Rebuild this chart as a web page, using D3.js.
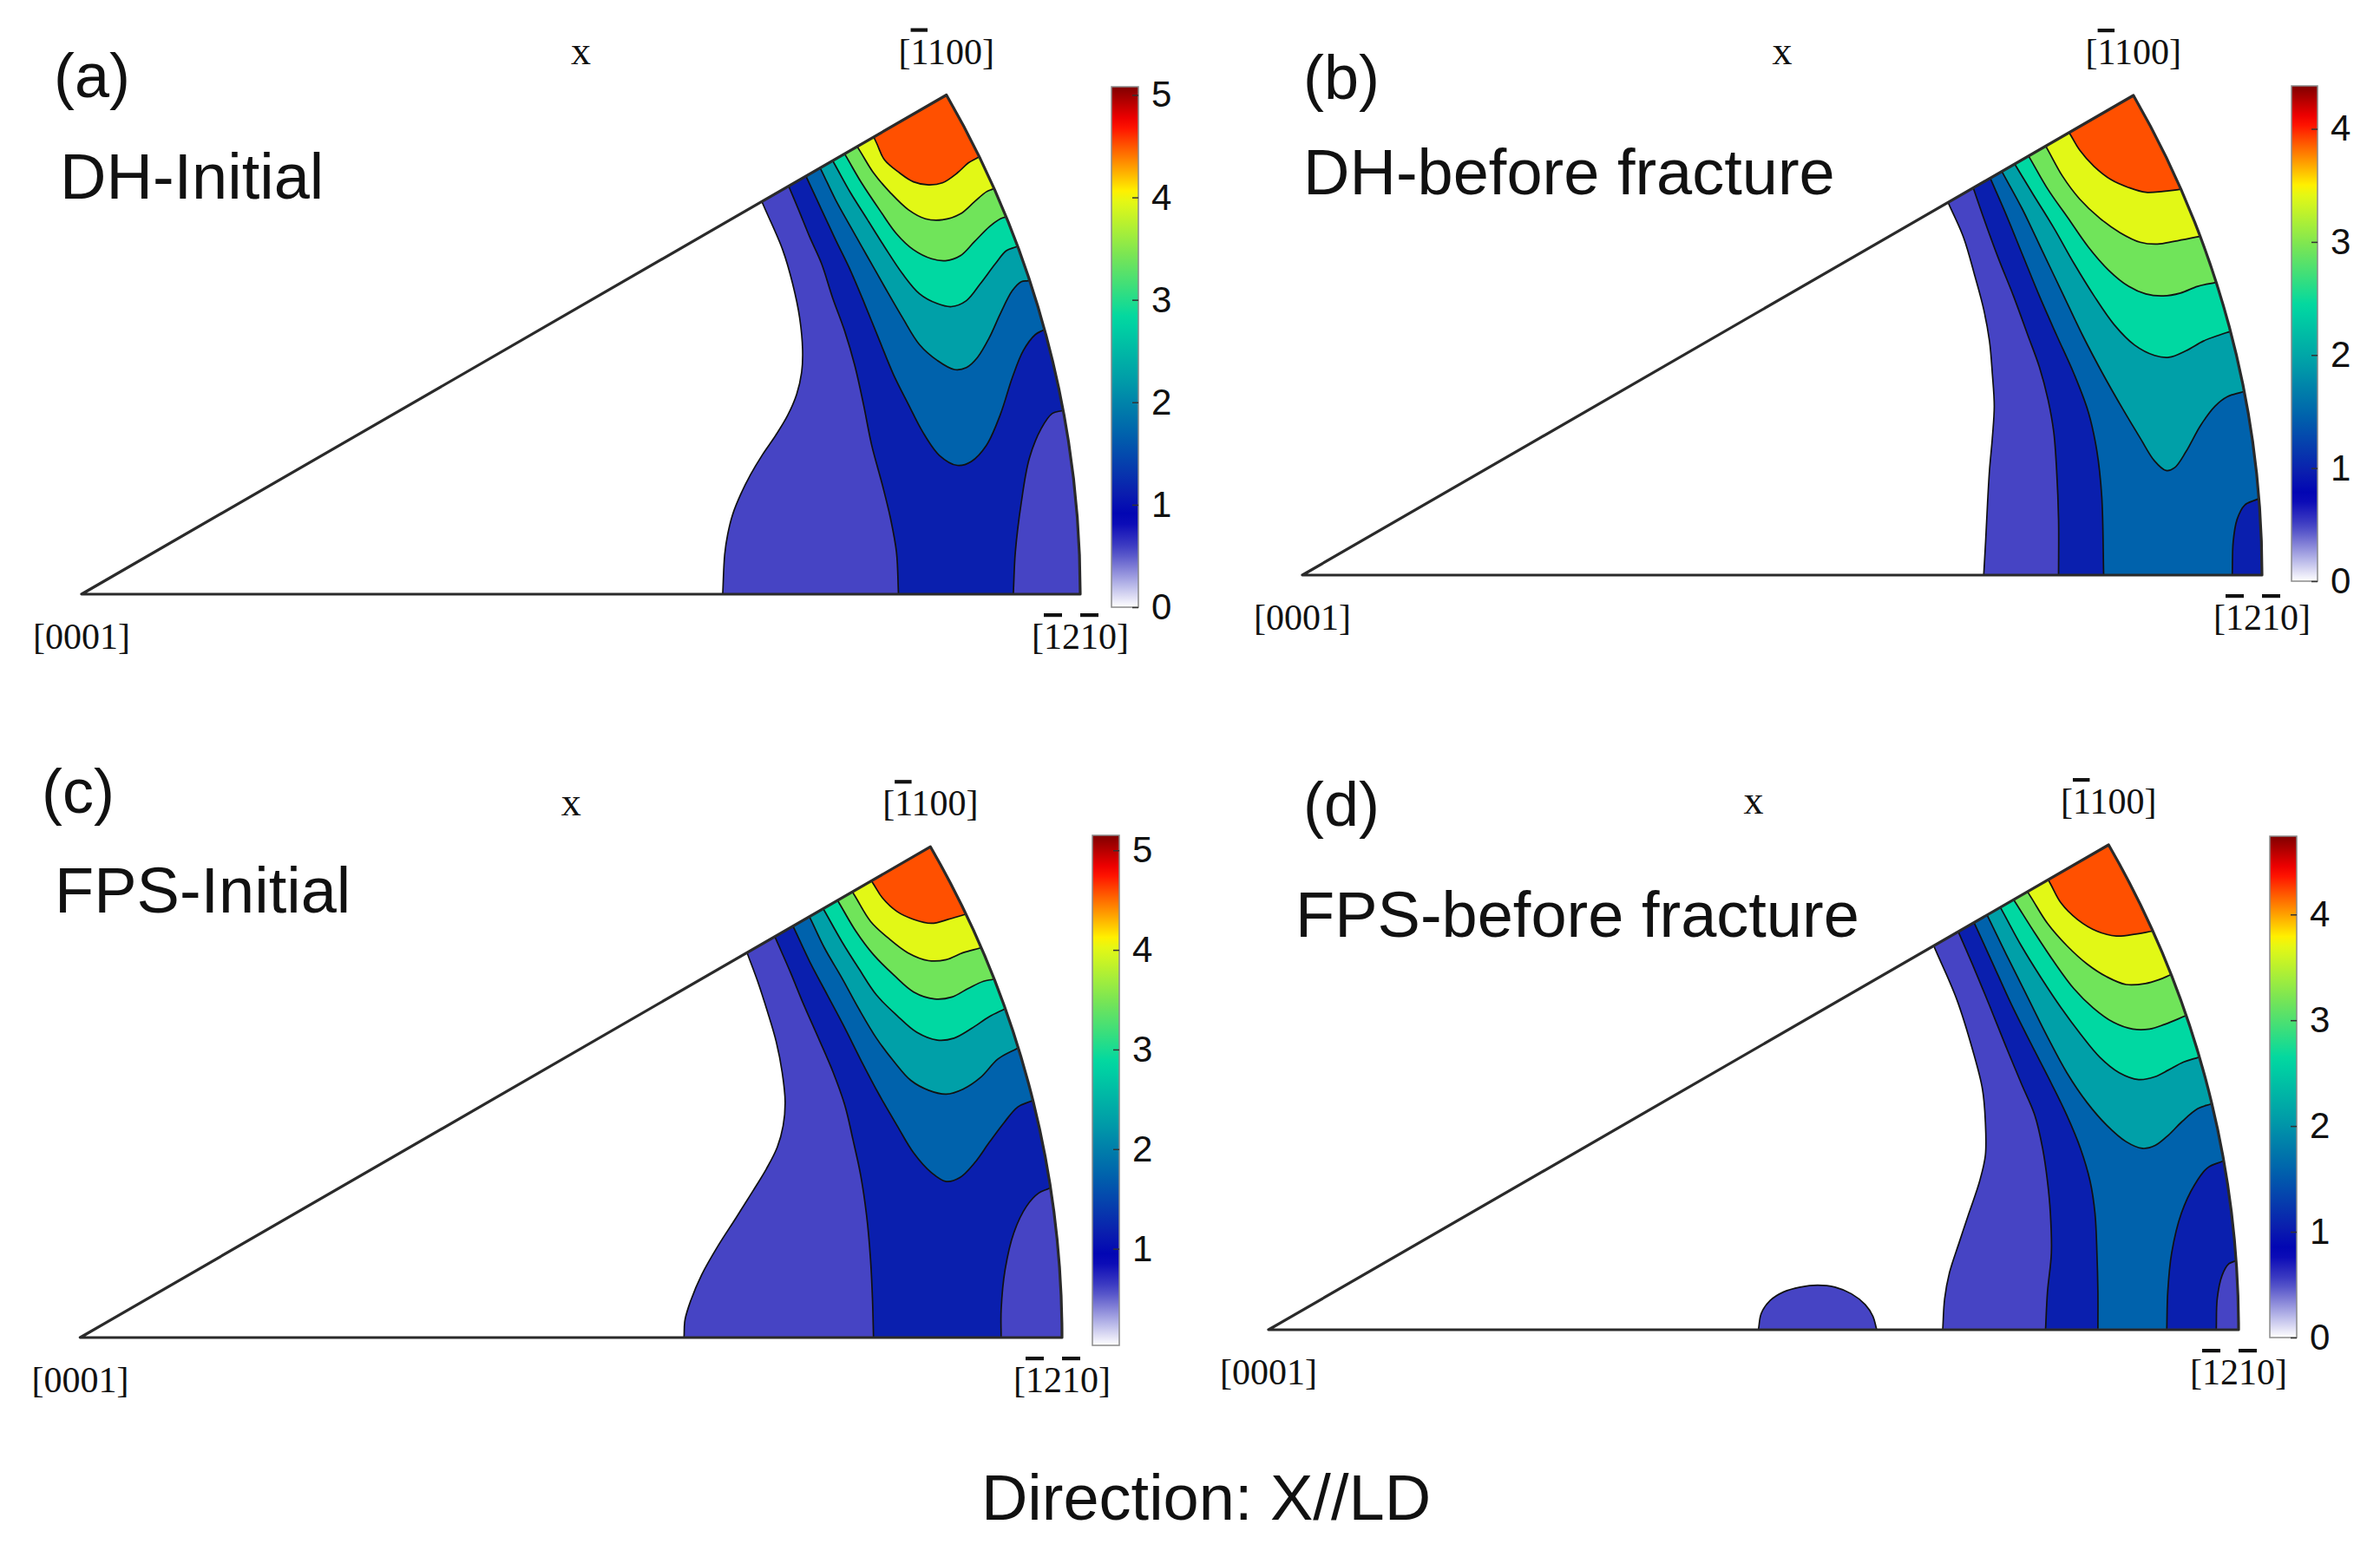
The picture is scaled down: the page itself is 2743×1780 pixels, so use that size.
<!DOCTYPE html>
<html>
<head>
<meta charset="utf-8">
<title>IPF X//LD</title>
<script src="https://cdnjs.cloudflare.com/ajax/libs/d3/7.8.5/d3.min.js"></script>
<style>
  body { margin: 0; background: #fff; }
  text { font-family: "Liberation Sans", Arial, sans-serif; fill: #111; }
  text.serif { font-family: "Liberation Serif", "DejaVu Serif", serif; }
</style>
</head>
<body>
<svg id="chart" width="2743" height="1780"></svg>
<script>

// panel texts
var panelIds = ["(a)", "(b)", "(c)", "(d)"];
var panelTitles = ["DH-Initial", "DH-before fracture", "FPS-Initial", "FPS-before fracture"];

// colour bar range of each panel (mrd) and its tick labels
var cbarMin = [0, 0, 0.03, 0];
var cbarMax = [5.08, 4.38, 5.15, 4.74];
var cbarTicks = [[0, 1, 2, 3, 4, 5], [0, 1, 2, 3, 4], [1, 2, 3, 4, 5], [0, 1, 2, 3, 4]];
var nLevels = 9;

// white-jet colour map, position 0..1 of the bar
var cmapPos = [0, 0.111, 0.17, 0.222, 0.333, 0.444, 0.556, 0.667, 0.778, 0.80, 0.889, 0.93, 1];
var cmapCol = ["#ffffff", "#4644c4", "#0000b4", "#0a1fae", "#0062ac", "#00a0a8", "#00d8a2",
               "#70e45a", "#e2f816", "#fff000", "#ff5000", "#ff0000", "#800000"];

// contour lines of each panel, points [u, v] in the unit sector
// (u along [0001]->[-12-10], v upward), k = contour level index
// hole: area on the corner side is below the level
var contoursA = [
  {k: 1, pts: [[0.683,0.389],[0.702,0.345],[0.712,0.311],[0.719,0.277],[0.722,0.244],[0.721,0.222],[0.716,0.200],[0.707,0.179],[0.695,0.159],[0.682,0.140],[0.670,0.120],[0.660,0.100],[0.652,0.080],[0.647,0.060],[0.644,0.040],[0.642,0.000]]},
  {k: 2, pts: [[0.710,0.404],[0.718,0.385],[0.729,0.358],[0.741,0.331],[0.752,0.297],[0.764,0.264],[0.774,0.230],[0.783,0.190],[0.791,0.150],[0.802,0.109],[0.810,0.076],[0.816,0.042],[0.818,0.000]]},
  {k: 3, pts: [[0.728,0.413],[0.741,0.385],[0.755,0.355],[0.770,0.324],[0.784,0.291],[0.799,0.254],[0.813,0.220],[0.828,0.190],[0.842,0.163],[0.859,0.139],[0.877,0.129],[0.891,0.133],[0.906,0.149],[0.920,0.180],[0.932,0.217],[0.943,0.244],[0.955,0.260],[0.964,0.265]]},
  {k: 4, pts: [[0.742,0.422],[0.755,0.395],[0.770,0.368],[0.787,0.338],[0.804,0.308],[0.822,0.277],[0.839,0.250],[0.857,0.234],[0.874,0.225],[0.886,0.227],[0.897,0.237],[0.909,0.257],[0.920,0.281],[0.932,0.304],[0.941,0.313],[0.948,0.314]]},
  {k: 5, pts: [[0.755,0.429],[0.770,0.402],[0.787,0.375],[0.804,0.348],[0.822,0.321],[0.839,0.301],[0.857,0.291],[0.871,0.288],[0.886,0.294],[0.900,0.311],[0.915,0.331],[0.926,0.344],[0.936,0.348]]},
  {k: 6, pts: [[0.767,0.436],[0.781,0.412],[0.799,0.385],[0.816,0.361],[0.833,0.345],[0.851,0.336],[0.865,0.334],[0.880,0.339],[0.894,0.353],[0.909,0.368],[0.920,0.376],[0.926,0.378]]},
  {k: 7, pts: [[0.780,0.443],[0.793,0.422],[0.810,0.402],[0.828,0.385],[0.845,0.376],[0.862,0.375],[0.880,0.381],[0.894,0.393],[0.906,0.403],[0.913,0.406]]},
  {k: 8, pts: [[0.796,0.452],[0.804,0.435],[0.819,0.422],[0.833,0.413],[0.848,0.410],[0.862,0.412],[0.877,0.422],[0.888,0.432],[0.897,0.437]]},
  {k: 2, hole: true, pts: [[0.933,0.000],[0.935,0.042],[0.941,0.092],[0.949,0.136],[0.961,0.166],[0.972,0.181],[0.983,0.184]]}
];

var contoursB = [
  {k: 1, pts: [[0.674,0.386],[0.689,0.352],[0.701,0.311],[0.710,0.277],[0.716,0.244],[0.719,0.210],[0.721,0.176],[0.719,0.143],[0.716,0.109],[0.714,0.075],[0.712,0.035],[0.710,0.000]]},
  {k: 2, pts: [[0.700,0.401],[0.710,0.372],[0.725,0.331],[0.741,0.291],[0.756,0.250],[0.768,0.217],[0.777,0.183],[0.783,0.149],[0.786,0.109],[0.788,0.058],[0.788,0.000]]},
  {k: 3, pts: [[0.718,0.411],[0.732,0.379],[0.750,0.335],[0.768,0.291],[0.786,0.250],[0.804,0.210],[0.819,0.170],[0.828,0.129],[0.833,0.082],[0.835,0.000]]},
  {k: 4, pts: [[0.731,0.417],[0.750,0.382],[0.771,0.338],[0.792,0.294],[0.813,0.250],[0.834,0.210],[0.855,0.173],[0.873,0.143],[0.888,0.119],[0.900,0.109],[0.909,0.112],[0.921,0.129],[0.936,0.156],[0.951,0.176],[0.964,0.186],[0.980,0.191]]},
  {k: 5, pts: [[0.745,0.424],[0.762,0.396],[0.783,0.362],[0.804,0.325],[0.825,0.291],[0.846,0.261],[0.867,0.240],[0.888,0.229],[0.903,0.227],[0.921,0.234],[0.939,0.244],[0.955,0.250],[0.967,0.254]]},
  {k: 6, pts: [[0.759,0.433],[0.777,0.402],[0.798,0.372],[0.819,0.342],[0.840,0.318],[0.861,0.301],[0.879,0.293],[0.897,0.291],[0.915,0.294],[0.933,0.301],[0.952,0.305]]},
  {k: 7, pts: [[0.777,0.443],[0.792,0.416],[0.810,0.392],[0.831,0.372],[0.852,0.357],[0.873,0.347],[0.891,0.345],[0.909,0.348],[0.935,0.353]]},
  {k: 8, pts: [[0.801,0.458],[0.810,0.443],[0.825,0.426],[0.843,0.412],[0.861,0.404],[0.879,0.399],[0.897,0.400],[0.914,0.402]]},
  {k: 3, hole: true, pts: [[0.969,0.000],[0.970,0.035],[0.974,0.058],[0.982,0.073],[0.995,0.079]]}
];

var contoursC = [
  {k: 1, pts: [[0.680,0.390],[0.690,0.363],[0.700,0.332],[0.709,0.301],[0.715,0.270],[0.718,0.240],[0.716,0.216],[0.710,0.194],[0.699,0.172],[0.685,0.149],[0.668,0.122],[0.650,0.094],[0.633,0.064],[0.622,0.038],[0.616,0.018],[0.615,0.000]]},
  {k: 2, pts: [[0.709,0.405],[0.723,0.373],[0.737,0.339],[0.752,0.305],[0.767,0.270],[0.779,0.236],[0.787,0.202],[0.795,0.165],[0.801,0.124],[0.805,0.079],[0.807,0.038],[0.808,0.000]]},
  {k: 3, pts: [[0.728,0.415],[0.743,0.383],[0.761,0.349],[0.779,0.315],[0.796,0.281],[0.814,0.247],[0.832,0.216],[0.849,0.188],[0.867,0.168],[0.882,0.159],[0.896,0.163],[0.911,0.178],[0.926,0.199],[0.941,0.219],[0.955,0.235],[0.969,0.241]]},
  {k: 4, pts: [[0.745,0.424],[0.758,0.397],[0.776,0.366],[0.793,0.335],[0.811,0.305],[0.829,0.281],[0.846,0.262],[0.864,0.252],[0.882,0.248],[0.899,0.253],[0.917,0.265],[0.935,0.284],[0.955,0.295]]},
  {k: 5, pts: [[0.759,0.433],[0.776,0.403],[0.793,0.376],[0.811,0.349],[0.832,0.328],[0.852,0.311],[0.873,0.303],[0.890,0.305],[0.908,0.315],[0.926,0.327],[0.942,0.335]]},
  {k: 6, pts: [[0.774,0.441],[0.790,0.414],[0.808,0.390],[0.829,0.369],[0.849,0.352],[0.870,0.345],[0.888,0.347],[0.905,0.356],[0.920,0.363],[0.930,0.365]]},
  {k: 7, pts: [[0.789,0.450],[0.805,0.424],[0.823,0.407],[0.843,0.392],[0.864,0.384],[0.882,0.385],[0.899,0.392],[0.917,0.397]]},
  {k: 8, pts: [[0.808,0.462],[0.817,0.448],[0.832,0.434],[0.849,0.426],[0.867,0.422],[0.884,0.426],[0.901,0.431]]},
  {k: 2, hole: true, pts: [[0.938,0.000],[0.938,0.028],[0.942,0.069],[0.951,0.107],[0.964,0.134],[0.976,0.147],[0.987,0.152]]}
];

var contoursD = [
  {k: 1, pts: [[0.687,0.393],[0.709,0.342],[0.726,0.288],[0.736,0.248],[0.739,0.214],[0.739,0.180],[0.733,0.153],[0.722,0.120],[0.712,0.090],[0.702,0.059],[0.697,0.032],[0.695,0.000]]},
  {k: 1, pts: [[0.505,0.000],[0.508,0.017],[0.517,0.030],[0.531,0.039],[0.548,0.044],[0.566,0.046],[0.584,0.044],[0.601,0.037],[0.615,0.026],[0.623,0.014],[0.627,0.000]]},
  {k: 2, pts: [[0.713,0.406],[0.726,0.376],[0.743,0.335],[0.759,0.295],[0.776,0.254],[0.790,0.221],[0.798,0.187],[0.803,0.153],[0.806,0.120],[0.807,0.079],[0.803,0.039],[0.801,0.000]]},
  {k: 3, pts: [[0.730,0.414],[0.746,0.379],[0.766,0.335],[0.786,0.295],[0.807,0.254],[0.823,0.221],[0.837,0.187],[0.847,0.153],[0.852,0.120],[0.854,0.079],[0.855,0.039],[0.855,0.000]]},
  {k: 4, pts: [[0.744,0.421],[0.763,0.382],[0.783,0.342],[0.803,0.302],[0.823,0.265],[0.844,0.234],[0.864,0.211],[0.884,0.194],[0.901,0.187],[0.914,0.190],[0.928,0.201],[0.941,0.214],[0.958,0.228],[0.972,0.233]]},
  {k: 5, pts: [[0.758,0.429],[0.776,0.396],[0.797,0.362],[0.817,0.332],[0.837,0.305],[0.857,0.281],[0.877,0.265],[0.897,0.258],[0.914,0.261],[0.928,0.268],[0.943,0.276],[0.959,0.281]]},
  {k: 6, pts: [[0.771,0.439],[0.790,0.409],[0.810,0.379],[0.830,0.352],[0.850,0.332],[0.871,0.317],[0.891,0.310],[0.908,0.310],[0.924,0.315],[0.946,0.324]]},
  {k: 7, pts: [[0.786,0.446],[0.803,0.419],[0.823,0.396],[0.844,0.377],[0.864,0.364],[0.884,0.356],[0.904,0.357],[0.918,0.361],[0.930,0.366]]},
  {k: 8, pts: [[0.806,0.460],[0.817,0.440],[0.834,0.423],[0.854,0.411],[0.874,0.406],[0.894,0.408],[0.911,0.411]]},
  {k: 3, hole: true, pts: [[0.926,0.000],[0.927,0.039],[0.931,0.079],[0.941,0.120],[0.955,0.150],[0.968,0.167],[0.984,0.174]]},
  {k: 2, hole: true, pts: [[0.977,0.000],[0.978,0.032],[0.983,0.056],[0.990,0.068],[0.997,0.071]]}
];

var panelContours = [contoursA, contoursB, contoursC, contoursD];

// layout of the four panels (pixels)
var layout = [
  {cx: 94,   cy: 685,  R: 1151,   bar: [1281, 100, 31, 600], id: [62, 112],   title: [69, 229]},
  {cx: 1501, cy: 663,  R: 1106,   bar: [2641, 99, 30, 571],  id: [1502, 114], title: [1502, 224]},
  {cx: 92.4, cy: 1542, R: 1131.6, bar: [1259, 963, 31, 588], id: [48, 937],   title: [63, 1052]},
  {cx: 1462, cy: 1533, R: 1118,   bar: [2616, 964, 31, 578], id: [1502, 952], title: [1493, 1080]}
];

var svg = d3.select("#chart");
var defs = svg.append("defs");

var cmap = d3.scaleLinear().domain(cmapPos).range(cmapCol).interpolate(d3.interpolateRgb);

// gradient for the colour bars
var grad = defs.append("linearGradient").attr("id", "wjet")
  .attr("x1", 0).attr("y1", 1).attr("x2", 0).attr("y2", 0);
d3.range(0, 1.0001, 0.02).forEach(function(t) {
  grad.append("stop").attr("offset", t).attr("stop-color", cmap(t));
});

var cos30 = Math.cos(Math.PI / 6), sin30 = 0.5;

// labels with overbars, written as [text, overbar] parts
function millerLabel(g, x, y, parts) {
  var t = g.append("text").attr("class", "serif")
    .attr("x", x).attr("y", y)
    .attr("text-anchor", "middle")
    .style("font-size", "42px");
  parts.forEach(function(p) {
    var s = t.append("tspan").text(p[0]);
    if (p[1]) s.style("text-decoration", "overline");
  });
}

layout.forEach(function(L, i) {
  var g = svg.append("g");
  var x = d3.scaleLinear().domain([0, 1]).range([L.cx, L.cx + L.R]);
  var y = d3.scaleLinear().domain([0, 1]).range([L.cy, L.cy - L.R]);

  var sector = "M" + x(0) + "," + y(0) + "L" + x(1) + "," + y(0) +
    "A" + L.R + "," + L.R + " 0 0 0 " + x(cos30) + "," + y(sin30) + "Z";

  defs.append("clipPath").attr("id", "clip" + i)
    .append("path").attr("d", sector);

  var line = d3.line()
    .x(function(d) { return x(d[0]); })
    .y(function(d) { return y(d[1]); })
    .curve(d3.curveCatmullRom.alpha(0.5));

  // contour line, extended past the border and closed round the outside
  function bandPath(pts) {
    var n = pts.length;
    function ext(p, q) {
      var dx = p[0] - q[0], dy = p[1] - q[1], l = Math.hypot(dx, dy);
      return [p[0] + dx / l * 0.04, p[1] + dy / l * 0.04];
    }
    var s = ext(pts[0], pts[1]), e = ext(pts[n - 1], pts[n - 2]);
    var a0 = Math.atan2(e[1], e[0]), a1 = Math.atan2(s[1], s[0]);
    var outer = d3.range(13).map(function(j) {
      var a = a0 + (a1 - a0) * j / 12;
      return [1.6 * Math.cos(a), 1.6 * Math.sin(a)];
    });
    return line([s].concat(pts, [e])) +
      outer.map(function(p) { return "L" + x(p[0]) + "," + y(p[1]); }).join("") + "Z";
  }

  var cs = panelContours[i];
  var ordered = cs.filter(function(c) { return !c.hole; })
    .sort(function(a, b) { return a.k - b.k; })
    .concat(cs.filter(function(c) { return c.hole; })
      .sort(function(a, b) { return b.k - a.k; }));

  var fills = g.append("g").attr("clip-path", "url(#clip" + i + ")");
  fills.append("path").attr("d", sector).attr("fill", "#fff");
  fills.selectAll("path.band").data(ordered).enter().append("path")
    .attr("class", "band")
    .attr("d", function(c) { return bandPath(c.pts); })
    .attr("fill", function(c) { return cmap((c.hole ? c.k - 1 : c.k) / nLevels); })
    .attr("stroke", "#111")
    .attr("stroke-width", 1.7)
    .attr("stroke-linejoin", "round");

  g.append("path").attr("d", sector)
    .attr("fill", "none").attr("stroke", "#2a2a2a")
    .attr("stroke-width", 3.2).attr("stroke-linejoin", "round");

  // corner labels
  millerLabel(g, x(0), L.cy + 63, [["[0001]"]]);
  millerLabel(g, x(1), L.cy + 63, [["["], ["1", true], ["2"], ["1", true], ["0]"]]);
  millerLabel(g, x(cos30), y(sin30) - 36, [["["], ["1", true], ["100]"]]);
  g.append("text").attr("class", "serif")
    .attr("x", x(0.5)).attr("y", y(sin30) - 36)
    .attr("text-anchor", "middle").style("font-size", "46px").text("x");

  g.append("text").attr("x", L.id[0]).attr("y", L.id[1])
    .style("font-size", "72px").text(panelIds[i]);
  g.append("text").attr("x", L.title[0]).attr("y", L.title[1])
    .style("font-size", "74px").text(panelTitles[i]);

  // colour bar
  var b = L.bar;
  g.append("rect").attr("x", b[0]).attr("y", b[1]).attr("width", b[2]).attr("height", b[3])
    .attr("fill", "url(#wjet)").attr("stroke", "#8a8a8a").attr("stroke-width", 1.5);
  var cy = d3.scaleLinear().domain([cbarMin[i], cbarMax[i]]).range([b[1] + b[3], b[1]]);
  var ax = g.append("g").attr("transform", "translate(" + (b[0] + b[2]) + ",0)")
    .call(d3.axisRight(cy).tickValues(cbarTicks[i]).tickFormat(d3.format("d"))
      .tickSizeInner(-7).tickSizeOuter(0).tickPadding(15));
  ax.select(".domain").remove();
  ax.selectAll(".tick line").attr("stroke", "#333").attr("stroke-width", 1.5);
  ax.selectAll(".tick text").style("font-size", "42px")
    .style("font-family", "'Liberation Sans', Arial, sans-serif").attr("fill", "#222");
});

svg.append("text").attr("x", 1390).attr("y", 1752)
  .attr("text-anchor", "middle").style("font-size", "74px")
  .text("Direction: X//LD");

</script>
</body>
</html>
